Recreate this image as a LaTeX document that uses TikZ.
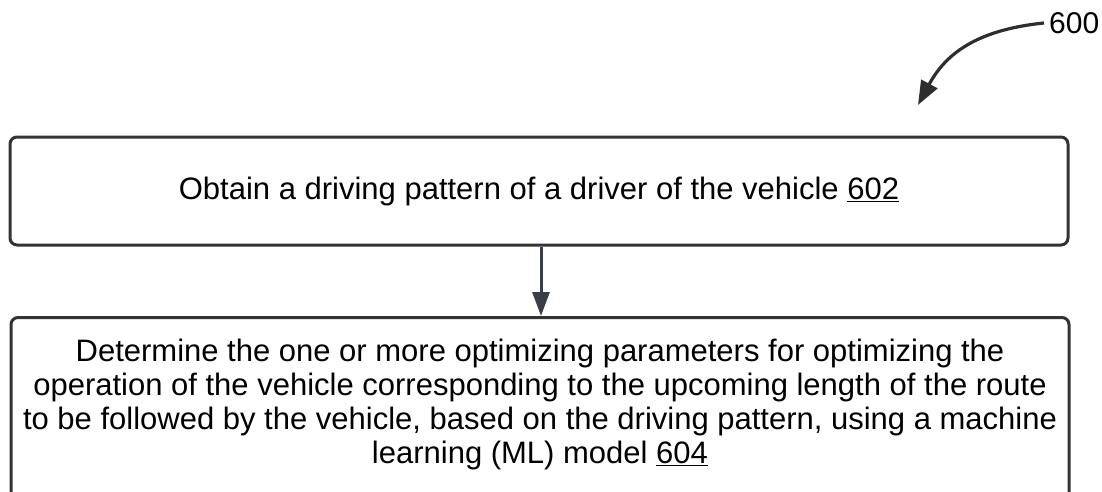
\documentclass[tikz,border=0pt]{standalone}
\usepackage{fontspec}
\setmainfont{Liberation Sans}
\usetikzlibrary{arrows.meta}
\definecolor{boxline}{HTML}{333333}
\definecolor{arrowc}{HTML}{3A3F47}
\tikzset{
  stepbox/.style={draw=boxline, line width=3pt, rounded corners=7pt, fill=white, inner sep=0pt},
  steptext/.style={align=center, font=\fontsize{31}{34}\selectfont, inner sep=0pt},
  flow/.style={draw=arrowc, line width=3pt, -{Triangle[length=24pt,width=17pt]}},
  refarrow/.style={draw=boxline!90!black, line width=3.2pt, -{Triangle[length=24pt,width=18pt]}},
}
\begin{document}
\begin{tikzpicture}[x=1pt,y=-1pt]
\useasboundingbox (0,0) rectangle (1102,492);
\clip (0,0) rectangle (1102,492);
\node[stepbox, steptext, minimum width=1058pt, minimum height=108pt] (b1) at (539,191) {Obtain a driving pattern of a driver of the vehicle \underline{602}};
\node[stepbox, minimum width=1058pt, minimum height=200pt, anchor=north] (b2) at (540,316) {};
\node[steptext] (b2t) at (540,404) {Determine the one or more optimizing parameters for optimizing the\\operation of the vehicle corresponding to the upcoming length of the route\\to be followed by the vehicle, based on the driving pattern, using a machine\\learning (ML) model \underline{604}};
\draw[flow] (b1.south -| 541,0) -- (b2.north -| 541,0);
\node[font=\fontsize{30}{32}\selectfont, anchor=west, inner sep=0pt] (lbl) at (1049,23) {600};
\coordinate (tip) at (918,105);
\draw[refarrow] ([xshift=-5pt]lbl.west) .. controls (975,30) and (945,55) .. (tip);
\end{tikzpicture}
\end{document}
